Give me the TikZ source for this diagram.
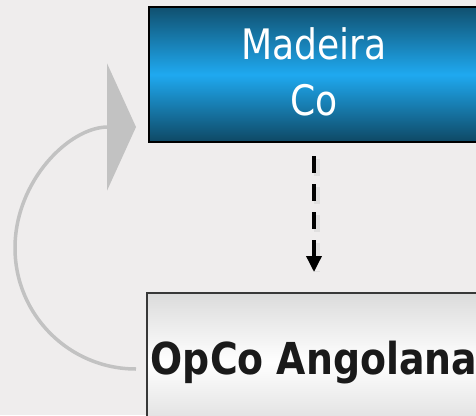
\documentclass[tikz,border=0pt]{standalone}
\usepackage{fontspec}
\usetikzlibrary{arrows.meta}
\newfontfamily\boxfont[FakeStretch=0.86]{DejaVu Sans}
\definecolor{bgcol}{HTML}{EFEDED}
\definecolor{bluedark}{HTML}{10506F}
\definecolor{bluelight}{HTML}{1FA9F0}
\definecolor{loopgray}{HTML}{C2C2C2}
\definecolor{textdark}{HTML}{1A1A1A}
\begin{document}
\begin{tikzpicture}[x=1pt, y=1pt,
    blue box/.style={rectangle, draw=black, line width=2pt, minimum width=330pt,
        minimum height=135pt, top color=bluedark, bottom color=bluedark!90!black,
        middle color=bluelight, text=white, align=center, text depth=6pt,
        font=\boxfont\fontsize{42}{56}\selectfont},
    grey box/.style={rectangle, draw=black!78, line width=2pt, minimum width=330pt,
        minimum height=139pt, top color=black!14, bottom color=black!14,
        middle color=white, text=textdark,
        font=\boxfont\bfseries\fontsize{44}{52}\selectfont}]
\useasboundingbox (0,0) rectangle (476,-415);
\fill[bgcol] (0,0) rectangle (476,-415);
\node[blue box](madeira) at (314,-74.5) {Madeira\\Co};
\node[grey box](opco) at (314,-362.5) {OpCo Angolana};
% dashed link, with a soft shadow
\draw[black, opacity=0.06, line width=6pt, dash pattern=on 17pt off 11pt,
    shorten <=14pt, shorten >=22pt]
    ([xshift=3pt,yshift=-2pt]madeira.south) -- ([xshift=3pt,yshift=-2pt]opco.north);
\draw[line width=3.5pt, dash pattern=on 17pt off 11pt, shorten <=13pt, shorten >=20pt,
    -{Triangle[length=16pt, width=15pt]}] (madeira.south) -- (opco.north);
% loop back to the top box
\coordinate (loopstart) at (136,-369);
\draw[loopgray, line width=3.5pt, -{Triangle[length=29pt, width=127pt]}]
    (loopstart) arc[start angle=270, end angle=90, radius=121pt];
\end{tikzpicture}
\end{document}
